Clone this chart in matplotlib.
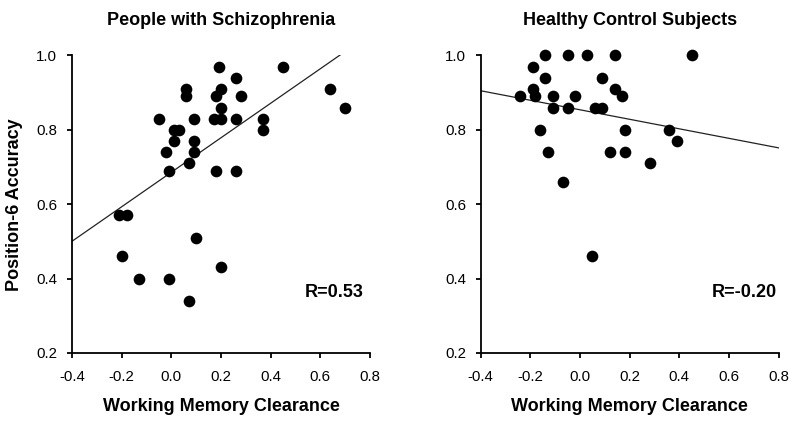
import matplotlib
matplotlib.use("Agg")
import matplotlib.pyplot as plt

# --- People with Schizophrenia
sz_wmc = [0.19, 0.45, 0.26, 0.06, 0.06, 0.20, 0.18, 0.28, 0.20, 0.64, 0.70,
          -0.05, 0.09, 0.17, 0.20, 0.26, 0.37, 0.37, 0.01, 0.03, 0.01, 0.09,
          -0.02, 0.09, 0.07, -0.01, 0.18, 0.26, -0.21, -0.18, 0.10, -0.20,
          0.20, -0.13, -0.01, 0.07]
sz_acc = [0.97, 0.97, 0.94, 0.91, 0.89, 0.91, 0.89, 0.89, 0.86, 0.91, 0.86,
          0.83, 0.83, 0.83, 0.83, 0.83, 0.83, 0.80, 0.80, 0.80, 0.77, 0.77,
          0.74, 0.74, 0.71, 0.69, 0.69, 0.69, 0.57, 0.57, 0.51, 0.46,
          0.43, 0.40, 0.40, 0.34]
sz_fit = (0.464, 0.686)   # slope, intercept
sz_r = "R=0.53"

# --- Healthy Control Subjects
hc_wmc = [-0.14, -0.05, 0.03, 0.14, 0.45, -0.19, -0.14, 0.09, -0.19, 0.14,
          -0.24, -0.18, -0.11, -0.02, 0.17, -0.11, -0.05, 0.06, 0.09, -0.16,
          0.18, 0.36, 0.39, -0.13, 0.12, 0.18, 0.28, -0.07, 0.05]
hc_acc = [1.00, 1.00, 1.00, 1.00, 1.00, 0.97, 0.94, 0.94, 0.91, 0.91,
          0.89, 0.89, 0.89, 0.89, 0.89, 0.86, 0.86, 0.86, 0.86, 0.80,
          0.80, 0.80, 0.77, 0.74, 0.74, 0.74, 0.71, 0.66, 0.46]
hc_fit = (-0.128, 0.854)
hc_r = "R=-0.20"

xticks = [-0.4, -0.2, 0.0, 0.2, 0.4, 0.6, 0.8]
yticks = [0.2, 0.4, 0.6, 0.8, 1.0]

plt.rcParams["font.family"] = ["Liberation Sans", "DejaVu Sans"]

fig = plt.figure(figsize=(7.95, 4.23), dpi=100)
ax1 = fig.add_axes([72 / 795, 0.1655, 298 / 795, 0.7033])
ax2 = fig.add_axes([480.7 / 795, 0.1655, 298 / 795, 0.7033])

panels = [
    (ax1, sz_wmc, sz_acc, sz_fit, sz_r, "People with Schizophrenia", 0.98),
    (ax2, hc_wmc, hc_acc, hc_fit, hc_r, "Healthy Control Subjects", 0.994),
]
for ax, x, y, fit, rtxt, title, rx in panels:
    slope, icpt = fit
    xs = [xticks[0], xticks[-1]]
    ax.plot(xs, [slope * v + icpt for v in xs], color="#222222", lw=0.9, zorder=2)
    ax.plot(x, y, "o", color="black", ms=8.4, mew=0, clip_on=False, zorder=3)
    ax.set_xlim(-0.4, 0.8)
    ax.set_ylim(0.2, 1.0)
    ax.set_xticks(xticks)
    ax.set_yticks(yticks)
    ax.set_xticklabels(["%.1f" % v for v in xticks])
    ax.set_yticklabels(["%.1f" % v for v in yticks])
    for s in ["top", "right"]:
        ax.spines[s].set_visible(False)
    for s in ["left", "bottom"]:
        ax.spines[s].set_linewidth(1.3)
    ax.tick_params(axis="both", direction="out", length=3.6, width=1.3, labelsize=10.8)
    ax.tick_params(axis="x", pad=8.5)
    ax.tick_params(axis="y", pad=7)
    ax.set_title(title, fontsize=13, fontweight="bold", pad=22)
    ax.set_xlabel("Working Memory Clearance", fontsize=13, fontweight="bold")
    ax.xaxis.set_label_coords(0.5, -0.152)
    ax.text(rx, 0.205, rtxt, transform=ax.transAxes, ha="right", va="center",
            fontsize=13, fontweight="bold")

ax1.set_ylabel("Position-6 Accuracy", fontsize=13, fontweight="bold")
ax1.yaxis.set_label_coords(-0.165, 0.5)

fig.savefig("out.png", dpi=100)
